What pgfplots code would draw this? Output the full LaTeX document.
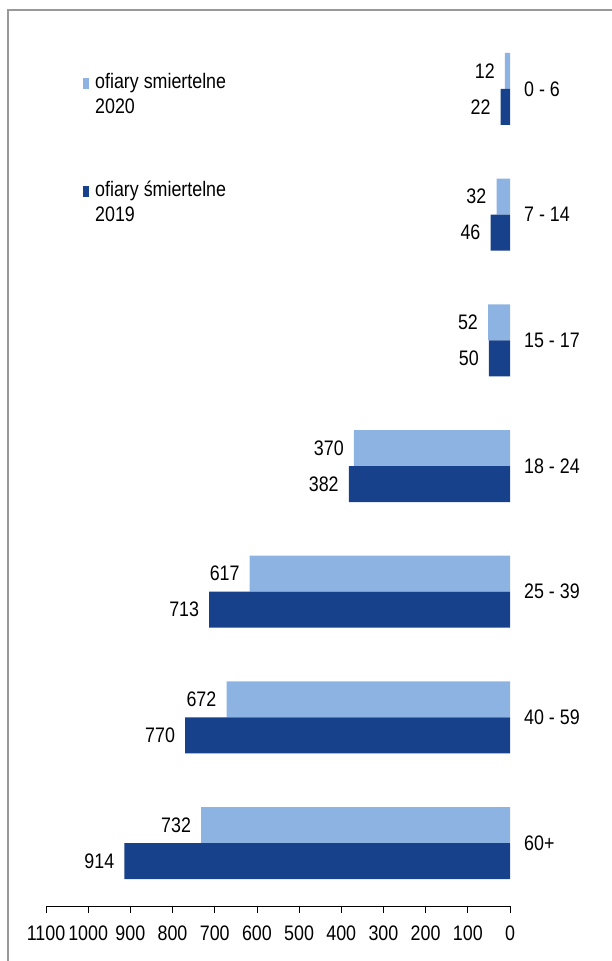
\documentclass[border=0pt]{standalone}
\usepackage{fontspec}
\setmainfont[FakeStretch=0.85]{Liberation Sans}
\usepackage{pgfplots}
\pgfplotsset{compat=1.18}
\definecolor{lightbar}{HTML}{8DB3E2}
\definecolor{darkbar}{HTML}{17418B}
\newcommand{\cf}{\fontsize{21bp}{25bp}\selectfont}

\begin{document}
\begin{tikzpicture}
\path[use as bounding box] (0,0) rectangle (612bp,-961bp);
\draw[gray!80, line width=2bp] (8bp,-975bp) -- (8bp,-10bp) -- (625bp,-10bp);
\begin{axis}[
    at={(46bp,-906bp)}, anchor=south west,
    scale only axis, width=464bp, height=880bp,
    xbar, bar width=36bp,
    x dir=reverse,
    xmin=0, xmax=1100,
    ymin=-0.5, ymax=6.5,
    xtick={0,100,...,1100},
    scaled x ticks=false,
    ytick={0,...,6},
    yticklabels={60+,40 - 59,25 - 39,18 - 24,15 - 17,7 - 14,0 - 6},
    axis x line*=bottom,
    axis y line*=right,
    y axis line style={draw=none},
    ytick style={draw=none},
    xtick style={black, line width=0.8bp},
    x axis line style={black, line width=0.8bp},
    tick align=outside,
    major tick length=7bp,
    xticklabel style={font=\cf, inner sep=0pt, anchor=north, yshift=-13bp},
    yticklabel style={font=\cf, inner sep=0pt, anchor=west, xshift=7bp},
    /pgf/number format/assume math mode=true,
    /pgf/number format/1000 sep={},
    point meta=x,
    nodes near coords,
    every node near coord/.append style={font=\cf, anchor=east, inner sep=0pt, xshift=-10bp, black},
    legend style={at={(axis description cs:0.0797,0.9494)}, anchor=north west,
        draw=none, fill=none, inner sep=0pt, row sep=89.5bp, column sep=6bp,
        nodes={inner sep=0pt, text depth=0pt, anchor=base west},
        cells={anchor=base west}, font=\cf},
]
\addplot[fill=lightbar, draw=none, bar shift=18bp,
    legend image code/.code={\fill[lightbar] (0bp,-1bp) rectangle (6bp,10bp);}]
    coordinates {(12,6) (32,5) (52,4) (370,3) (617,2) (672,1) (732,0)};
\addlegendentry{\begin{tabular}[t]{@{}l@{}}ofiary smiertelne\\2020\end{tabular}}
\addplot[fill=darkbar, draw=none, bar shift=-18bp,
    legend image code/.code={\fill[darkbar] (0bp,-1bp) rectangle (6bp,10bp);}]
    coordinates {(22,6) (46,5) (50,4) (382,3) (713,2) (770,1) (914,0)};
\addlegendentry{\begin{tabular}[t]{@{}l@{}}ofiary śmiertelne\\2019\end{tabular}}
\end{axis}
\end{tikzpicture}
\end{document}
